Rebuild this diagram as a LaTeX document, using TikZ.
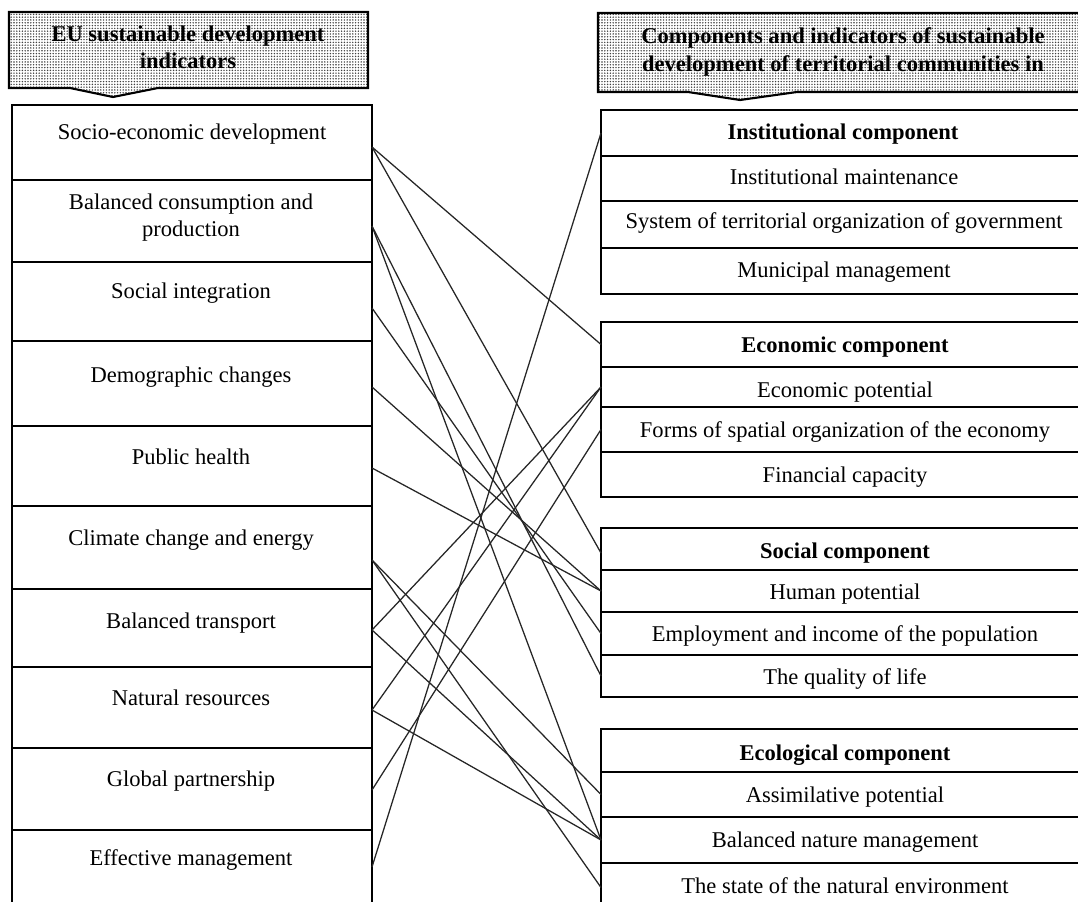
\documentclass[tikz,border=0pt]{standalone}
\usepackage{fontspec}
\setmainfont{Liberation Serif}
\usetikzlibrary{patterns.meta,calc}
\begin{document}
\begin{tikzpicture}[x=0.75pt,y=-0.75pt,
  lrow/.style={draw, line width=1.6pt, inner sep=0pt, outer sep=0pt, anchor=north west, minimum width=270pt},
  rrow/.style={draw, line width=1.6pt, inner sep=0pt, outer sep=0pt, anchor=north west, minimum width=366.75pt},
  txt/.style={inner sep=0pt, anchor=base, font=\fontsize{16.9}{20.3}\selectfont, align=center},
  btxt/.style={txt, font=\fontsize{16.9}{20.3}\selectfont\bfseries},
  hdr/.style={draw, line width=1.6pt, pattern={Dots[distance=2.1pt,radius=0.6pt]}, pattern color=black!75},
  link/.style={draw=black!85, line width=0.95pt}
]
\useasboundingbox (0,0) rectangle (1078,902);
\begin{scope}
\clip (0,0) rectangle (1078,902);
\fill[white] (0,0) rectangle (1078,902);

% headers
\path[hdr] (9,12) -- (368,12) -- (368,88) -- (158,88) -- (113,97) -- (70,88) -- (9,88) -- cycle;
\path[hdr] (598,13) -- (1090,13) -- (1090,92) -- (797,92) -- (740,100) -- (688,92) -- (598,92) -- cycle;
\node[btxt] (h1a) at (188,42) {EU sustainable development};
\node[btxt] (h1b) at (188,69) {indicators};
\node[btxt] (h2a) at (843,44) {Components and indicators of sustainable};
\node[btxt] (h2b) at (843,72) {development of territorial communities in};

% left column
\node[lrow, minimum height=56.25pt] (l1) at (12,105) {};
\node[lrow, minimum height=61.5pt]  (l2) at (12,180) {};
\node[lrow, minimum height=59.25pt] (l3) at (12,262) {};
\node[lrow, minimum height=63.75pt] (l4) at (12,341) {};
\node[lrow, minimum height=60pt]    (l5) at (12,426) {};
\node[lrow, minimum height=62.25pt] (l6) at (12,506) {};
\node[lrow, minimum height=58.5pt]  (l7) at (12,589) {};
\node[lrow, minimum height=60.75pt] (l8) at (12,667) {};
\node[lrow, minimum height=61.5pt]  (l9) at (12,748) {};
\node[lrow, minimum height=67.5pt]  (l10) at (12,830) {};

\node[txt] (t1) at (192,140) {Socio-economic development};
\node[txt] (t2a) at (191,210) {Balanced consumption and};
\node[txt] (t2b) at (191,237) {production};
\node[txt] (t3) at (191,299) {Social integration};
\node[txt] (t4) at (191,382) {Demographic changes};
\node[txt] (t5) at (191,464) {Public health};
\node[txt] (t6) at (191,545) {Climate change and energy};
\node[txt] (t7) at (191,628) {Balanced transport};
\node[txt] (t8) at (191,705) {Natural resources};
\node[txt] (t9) at (191,786) {Global partnership};
\node[txt] (t10) at (191,865) {Effective management};

% right column
\node[rrow, minimum height=34.5pt]  (r1) at (601,110) {};
\node[rrow, minimum height=33.75pt] (r2) at (601,156) {};
\node[rrow, minimum height=35.25pt] (r3) at (601,201) {};
\node[rrow, minimum height=34.5pt]  (r4) at (601,248) {};
\node[rrow, minimum height=33.75pt] (r5) at (601,322) {};
\node[rrow, minimum height=30pt]    (r6) at (601,367) {};
\node[rrow, minimum height=33.75pt] (r7) at (601,407) {};
\node[rrow, minimum height=33.75pt] (r8) at (601,452) {};
\node[rrow, minimum height=31.5pt]  (r9) at (601,528) {};
\node[rrow, minimum height=31.5pt]  (r10) at (601,570) {};
\node[rrow, minimum height=32.25pt] (r11) at (601,612) {};
\node[rrow, minimum height=31.5pt]  (r12) at (601,655) {};
\node[rrow, minimum height=32.25pt] (r13) at (601,729) {};
\node[rrow, minimum height=33.75pt] (r14) at (601,772) {};
\node[rrow, minimum height=34.5pt]  (r15) at (601,817) {};
\node[rrow, minimum height=42.75pt] (r16) at (601,863) {};

\node[btxt] (s1) at (843,140) {Institutional component};
\node[txt] (s2) at (844,185) {Institutional maintenance};
\node[txt] (s3) at (844,229) {System of territorial organization of government};
\node[txt] (s4) at (844,277) {Municipal management};
\node[btxt] (s5) at (845,352) {Economic component};
\node[txt] (s6) at (845,397) {Economic potential};
\node[txt] (s7) at (845,437) {Forms of spatial organization of the economy};
\node[txt] (s8) at (845,482) {Financial capacity};
\node[btxt] (s9) at (845,558) {Social component};
\node[txt] (s10) at (845,599) {Human potential};
\node[txt] (s11) at (845,641) {Employment and income of the population};
\node[txt] (s12) at (845,684) {The quality of life};
\node[btxt] (s13) at (845,760) {Ecological component};
\node[txt] (s14) at (845,802) {Assimilative potential};
\node[txt] (s15) at (845,847) {Balanced nature management};
\node[txt] (s16) at (845,893) {The state of the natural environment};

% connectors
\path[link] ($(l1.east)+(0,4.5)$) -- (r5.west);
\path[link] ($(l1.east)+(0,4.5)$) -- ($(r9.west)+(0,4)$);
\path[link] ($(l2.east)+(0,5)$) -- (r15.west);
\path[link] ($(l2.east)+(0,5)$) -- (r12.west);
\path[link] ($(l3.east)+(0,6.5)$) -- (r11.west);
\path[link] ($(l4.east)+(0,3.5)$) -- (r10.west);
\path[link] ($(l5.east)+(0,2)$) -- (r10.west);
\path[link] ($(l6.east)+(0,12.5)$) -- (r14.west);
\path[link] ($(l6.east)+(0,12.5)$) -- ($(r16.west)+(0,-4)$);
\path[link] ($(l7.east)+(0,2)$) -- (r6.west);
\path[link] ($(l7.east)+(0,2)$) -- (r15.west);
\path[link] ($(l8.east)+(0,2.5)$) -- (r6.west);
\path[link] ($(l8.east)+(0,2.5)$) -- (r15.west);
\path[link] ($(l9.east)+(0,1)$) -- (r7.west);
\path[link] ($(l10.east)+(0,-8)$) -- (r1.west);
\end{scope}
\end{tikzpicture}
\end{document}
